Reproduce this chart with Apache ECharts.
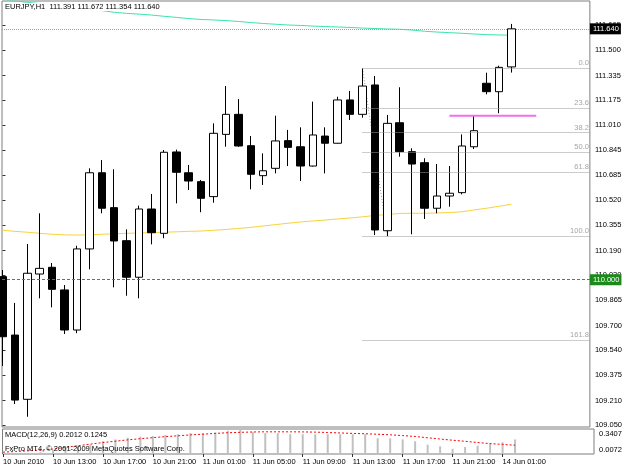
<!DOCTYPE html>
<html>
<head>
<meta charset="utf-8">
<script src="https://cdn.jsdelivr.net/npm/echarts@6/dist/echarts.min.js"></script>
<style>
  html, body { margin: 0; padding: 0; background: #fff; }
  #chart { width: 625px; height: 469px; }
</style>
</head>
<body>
<div id="chart"></div>
<script>
const symbol = "EURJPY,H1";
const copyright = "FxPro MT4, \u00a9 2001-2009 MetaQuotes Software Corp.";
const macdName = "MACD(12,26,9)";

// H1 bars, 10 Jun 2010 09:00 .. 14 Jun 2010 02:00 (x = bar index)
const barOpen = [110.020, 109.638, 109.218, 110.037, 110.081, 109.933, 109.671, 110.201, 110.699, 110.471,
  110.255, 110.016, 110.462, 110.303, 110.835, 110.699, 110.641, 110.543, 110.950, 111.081,
  110.876, 110.680, 110.728, 110.909, 110.869, 110.743, 110.939, 110.892, 111.175, 111.081,
  111.273, 110.320, 111.026, 110.837, 110.765, 110.467, 110.547, 110.569, 110.869, 111.284,
  111.229, 111.391];
const barClose = [109.627, 109.213, 110.042, 110.074, 109.937, 109.671, 110.201, 110.699, 110.467, 110.253,
  110.016, 110.462, 110.307, 110.833, 110.702, 110.645, 110.532, 110.957, 111.081, 110.874,
  110.689, 110.712, 110.907, 110.865, 110.743, 110.946, 110.892, 111.175, 111.081, 111.266,
  110.325, 111.022, 110.837, 110.756, 110.467, 110.547, 110.565, 110.874, 110.974, 111.229,
  111.388, 111.640];
const barLow = [109.436, 109.187, 109.104, 109.878, 109.819, 109.645, 109.650, 110.068, 110.434, 109.950,
  109.895, 109.878, 110.231, 110.271, 110.499, 110.586, 110.441, 110.503, 110.869, 110.869,
  110.591, 110.619, 110.695, 110.743, 110.645, 110.740, 110.695, 110.890, 111.044, 111.059,
  110.292, 110.284, 110.804, 110.297, 110.397, 110.434, 110.477, 110.558, 110.854, 111.212,
  111.088, 111.354];
const barHigh = [110.063, 109.848, 110.233, 110.434, 110.109, 109.965, 110.222, 110.728, 110.782, 110.722,
  110.329, 110.484, 110.560, 110.848, 110.850, 110.750, 110.652, 111.022, 111.266, 111.181,
  110.939, 110.826, 111.072, 110.979, 110.996, 111.164, 110.996, 111.196, 111.234, 111.382,
  111.332, 111.077, 111.258, 110.859, 110.794, 110.756, 110.743, 110.950, 111.066, 111.353,
  111.399, 111.672];

const maGreen = [111.832, 111.822, 111.813, 111.805, 111.796, 111.787, 111.777, 111.768, 111.759, 111.748,
  111.741, 111.736, 111.730, 111.722, 111.715, 111.707, 111.701, 111.698, 111.694, 111.688,
  111.681, 111.675, 111.670, 111.665, 111.662, 111.658, 111.655, 111.652, 111.649, 111.645,
  111.642, 111.639, 111.637, 111.632, 111.624, 111.619, 111.615, 111.611, 111.606, 111.602,
  111.600, 111.598];
const maYellow = [110.323, 110.316, 110.310, 110.303, 110.297, 110.293, 110.292, 110.293, 110.297, 110.300,
  110.303, 110.305, 110.308, 110.310, 110.313, 110.316, 110.318, 110.323, 110.328, 110.335,
  110.342, 110.351, 110.360, 110.369, 110.377, 110.384, 110.390, 110.397, 110.403, 110.411,
  110.420, 110.426, 110.433, 110.434, 110.434, 110.436, 110.439, 110.444, 110.456, 110.467,
  110.480, 110.493];

const macdHist = [-0.05, -0.03, 0.0, 0.03, 0.06, 0.09, 0.118, 0.132, 0.178, 0.202,
  0.225, 0.239, 0.248, 0.262, 0.271, 0.285, 0.285, 0.295, 0.317, 0.336,
  0.303, 0.285, 0.285, 0.271, 0.271, 0.271, 0.271, 0.271, 0.271, 0.271,
  0.216, 0.216, 0.202, 0.178, 0.132, 0.109, 0.077, 0.100, 0.118, 0.146,
  0.164, 0.2012];
const macdSignal = [0.032, 0.041, 0.049, 0.059, 0.073, 0.096, 0.118, 0.139, 0.160, 0.178,
  0.196, 0.211, 0.225, 0.239, 0.250, 0.262, 0.271, 0.282, 0.291, 0.296,
  0.301, 0.303, 0.303, 0.303, 0.302, 0.299, 0.294, 0.288, 0.282, 0.277,
  0.271, 0.263, 0.253, 0.241, 0.224, 0.207, 0.191, 0.177, 0.160, 0.146,
  0.135, 0.1245];

const priceLabels = ["111.665", "111.500", "111.335", "111.175", "111.010", "110.845", "110.685", "110.520",
  "110.355", "110.190", "110.030", "109.865", "109.700", "109.540", "109.375", "109.210", "109.050"];
const macdLabels = ["0.3407", "0.0072"];
const timeLabelBars = [0, 4, 8, 12, 16, 20, 24, 28, 32, 36, 40];
const timeLabels = ["10 Jun 2010", "10 Jun 13:00", "10 Jun 17:00", "10 Jun 21:00", "11 Jun 01:00",
  "11 Jun 05:00", "11 Jun 09:00", "11 Jun 13:00", "11 Jun 17:00", "11 Jun 21:00", "14 Jun 01:00"];

// fibo retracement: 0.0 on bar 29 high, 100.0 on bar 31 low
const fiboHighBar = 29, fiboLowBar = 31;
const fiboLevels = [0, 23.6, 38.2, 50, 61.8, 100, 161.8];
const pinkLine = { from: 36, to: 43, price: 111.072 };
const roundLevel = 110.0;

const xMin = -0.04, xMax = 47.32;
const font = "Liberation Sans";
const fs = 7.5;

const last = barClose.length - 1;
const fiboTop = barHigh[fiboHighBar];
const fiboBottom = barLow[fiboLowBar];
const fiboPrice = (l) => fiboTop - (fiboTop - fiboBottom) * l / 100;

const candles = barOpen.map((o, i) => [i, o, barClose[i], barLow[i], barHigh[i]]);
const pts = (arr) => arr.map((v, i) => [i, v]);

const chart = echarts.init(document.getElementById("chart"));

chart.setOption({
  animation: false,
  backgroundColor: "#ffffff",
  textStyle: { fontFamily: font },
  title: [
    {
      text: `${symbol}  ${barOpen[last].toFixed(3)} ${barHigh[last].toFixed(3)} ${barLow[last].toFixed(3)} ${barClose[last].toFixed(3)}`,
      left: 5, top: 3, padding: 0, backgroundColor: "#ffffff",
      textStyle: { fontSize: fs, fontWeight: "normal", color: "#000", fontFamily: font },
    },
    {
      text: `${macdName} ${macdHist[last].toFixed(4)} ${macdSignal[last].toFixed(4)}`,
      left: 5, top: 431, padding: 0,
      textStyle: { fontSize: fs, fontWeight: "normal", color: "#000", fontFamily: font },
    },
    {
      text: copyright,
      left: 5, top: 445, padding: 0,
      textStyle: { fontSize: fs, fontWeight: "normal", color: "#000", fontFamily: font },
    },
  ],
  grid: [
    { left: 2, top: 1, width: 592, height: 426, show: true, borderColor: "#7f7f7f", borderWidth: 1 },
    { left: 2, top: 429, width: 592, height: 25, show: true, borderColor: "#7f7f7f", borderWidth: 1 },
  ],
  xAxis: [
    { type: "value", gridIndex: 0, min: xMin, max: xMax, show: false },
    {
      type: "value", gridIndex: 1, min: xMin, max: xMax,
      axisLine: { show: false },
      splitLine: { show: false },
      axisTick: { show: true, customValues: timeLabelBars, length: 3, lineStyle: { color: "#333" } },
      axisLabel: {
        customValues: timeLabelBars,
        formatter: (v) => timeLabels[timeLabelBars.indexOf(v)],
        align: "left", margin: 4, fontSize: fs, color: "#000", fontFamily: font,
      },
    },
  ],
  yAxis: [
    {
      type: "value", gridIndex: 0, position: "right",
      min: 109.0369, max: 111.8219,
      axisLine: { show: false },
      splitLine: { show: false },
      axisTick: { show: true, customValues: priceLabels.map(Number), length: 3, lineStyle: { color: "#333" } },
      axisLabel: {
        customValues: priceLabels.map(Number),
        formatter: (v) => v.toFixed(3),
        margin: 5, fontSize: fs, color: "#000", fontFamily: font,
      },
    },
    {
      type: "value", gridIndex: 1, position: "right",
      min: 0.0072, max: 0.3407,
      axisLine: { show: false },
      splitLine: { show: false },
      axisTick: { show: false },
      axisLabel: {
        customValues: macdLabels.map(Number),
        formatter: (v) => (v > 0.1 ? `{t|${macdLabels[0]}}` : `{b|${macdLabels[1]}}`),
        margin: 5, fontSize: fs, color: "#000", fontFamily: font,
        rich: {
          t: { padding: [9, 0, 0, 0], fontSize: fs, fontFamily: font, color: "#000" },
          b: { padding: [0, 0, 9, 0], fontSize: fs, fontFamily: font, color: "#000" },
        },
      },
    },
  ],
  series: [
    {
      name: "MA green", type: "line", xAxisIndex: 0, yAxisIndex: 0, z: 1,
      data: pts(maGreen), showSymbol: false, silent: true,
      lineStyle: { color: "#3de3aa", width: 1 },
    },
    {
      name: "MA yellow", type: "line", xAxisIndex: 0, yAxisIndex: 0, z: 1,
      data: pts(maYellow), showSymbol: false, silent: true,
      lineStyle: { color: "#f7d33c", width: 1 },
    },
    {
      name: "Fibo", type: "line", xAxisIndex: 0, yAxisIndex: 0, z: 1,
      data: [[fiboHighBar, fiboTop], [fiboLowBar, fiboBottom]],
      showSymbol: false, silent: true,
      lineStyle: { color: "#999", width: 1, type: [1, 2] },
      markLine: {
        silent: true, symbol: "none", animation: false,
        lineStyle: { color: "#999", width: 1, type: [1, 1] },
        label: {
          position: "insideEndTop", distance: [1, 1],
          color: "#a6a6a6", fontSize: fs, fontFamily: font,
          formatter: (p) => p.data.lvl,
        },
        data: fiboLevels.map((l) => [
          { coord: [fiboHighBar, fiboPrice(l)], lvl: l.toFixed(1) },
          { coord: [xMax, fiboPrice(l)] },
        ]),
      },
    },
    {
      name: "Level", type: "line", xAxisIndex: 0, yAxisIndex: 0, z: 1,
      data: [[pinkLine.from, pinkLine.price], [pinkLine.to, pinkLine.price]],
      showSymbol: false, silent: true,
      lineStyle: { color: "#f06ef0", width: 2 },
    },
    {
      name: symbol, type: "candlestick", xAxisIndex: 0, yAxisIndex: 0, z: 3,
      data: candles, barWidth: 8, silent: true,
      itemStyle: {
        color: "#ffffff", color0: "#000000",
        borderColor: "#000000", borderColor0: "#000000", borderWidth: 1,
      },
      markLine: {
        silent: true, symbol: "none", animation: false,
        data: [
          {
            yAxis: roundLevel,
            lineStyle: { color: "#229e22", width: 1, type: [3, 2] },
            label: {
              position: "end", distance: 0, formatter: roundLevel.toFixed(3),
              backgroundColor: "#1b8a1b", color: "#fff", padding: [2, 2, 1, 3],
              fontSize: fs, fontFamily: font,
            },
          },
          {
            yAxis: barClose[last],
            lineStyle: { color: "#a0a0a0", width: 1, type: [1, 1] },
            label: {
              position: "end", distance: 0, formatter: barClose[last].toFixed(3),
              backgroundColor: "#000", color: "#fff", padding: [2, 2, 1, 3],
              fontSize: fs, fontFamily: font,
            },
          },
        ],
      },
    },
    {
      name: "MACD", type: "bar", xAxisIndex: 1, yAxisIndex: 1,
      data: pts(macdHist), barWidth: 2, silent: true,
      itemStyle: { color: "#c0c0c0" },
    },
    {
      name: "Signal", type: "line", xAxisIndex: 1, yAxisIndex: 1,
      data: pts(macdSignal), showSymbol: false, silent: true,
      lineStyle: { color: "#ff0000", width: 1, type: [2, 2] },
    },
  ],
});
</script>
</body>
</html>
